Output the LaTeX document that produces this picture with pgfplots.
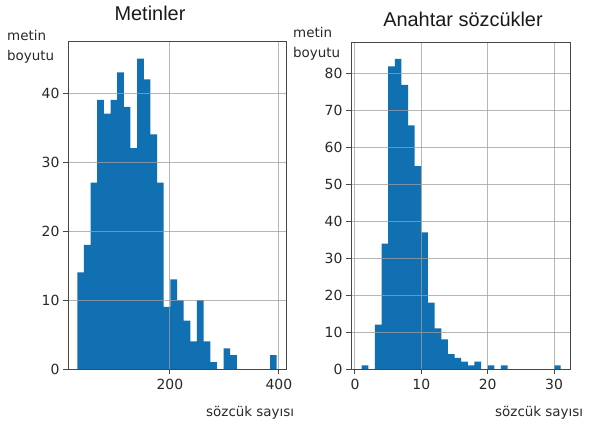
\documentclass[border=0pt]{standalone}
\usepackage{pgfplots}
\pgfplotsset{compat=1.18}
\usepackage{fontspec}
\setmainfont{DejaVu Sans}
\newfontfamily\titlefont{Liberation Sans}
\definecolor{barblue}{RGB}{16,112,178}
\definecolor{txt}{RGB}{40,40,40}
\pgfplotsset{
  myhist/.style={
    scale only axis,
    anchor=south west,
    axis on top,
    ymin=0,
    grid=major,
    grid style={color=black!38, line width=1bp, opacity=0.75},
    axis line style={color=black!72, line width=1bp},
    tick style={color=black!72, line width=1bp},
    major tick length=5bp,
    tick align=outside,
    tick pos=left,
    /pgf/number format/assume math mode=true,
    ticklabel style={font=\fontsize{14}{16}\selectfont, text=txt},
    xticklabel style={yshift=-2bp},
  }
}
\begin{document}
\begin{tikzpicture}[x=1bp,y=1bp]
\useasboundingbox (0,0) rectangle (595,430);
% Left histogram: Metinler
\begin{axis}[myhist, at={(68bp,61bp)}, width=218bp, height=327bp,
  xmin=13, xmax=413, ymax=47.4,
  xtick={200,400}, ytick={0,10,20,30,40}]
\addplot[ybar interval, fill=barblue, draw=none] coordinates {
(30,14) (42.2,18) (54.4,27) (66.6,39) (78.8,37) (91,39) (103.2,43) (115.4,38)
(127.6,32) (139.8,45) (152,42) (164.2,34) (176.4,27) (188.6,9) (200.8,13)
(213,10) (225.2,7) (237.4,4) (249.6,10) (261.8,4) (274,1) (286.2,0) (298.4,3)
(310.6,2) (322.8,0) (335,0) (347.2,0) (359.4,0) (371.6,0) (383.8,2) (396,2)
};
\end{axis}
% Right histogram: Anahtar sozcukler
\begin{axis}[myhist, at={(351bp,61bp)}, width=219bp, height=327bp,
  xmin=-0.6, xmax=32.4, ymax=88.6,
  xtick={0,10,20,30}, ytick={0,10,...,80}]
\addplot[ybar interval, fill=barblue, draw=none] coordinates {
(1,1) (2,0) (3,12) (4,34) (5,82) (6,84) (7,77) (8,66) (9,55) (10,37) (11,18)
(12,11) (13,8) (14,4) (15,3) (16,2) (17,1) (18,2) (19,0) (20,1) (21,0) (22,1)
(23,0) (24,0) (25,0) (26,0) (27,0) (28,0) (29,0) (30,1) (31,1)
};
\end{axis}
% Titles
\node[anchor=base, font=\titlefont\fontsize{20}{22}\selectfont, text=black!90] at (150,409.5) {Metinler};
\node[anchor=base, font=\titlefont\fontsize{20}{22}\selectfont, text=black!90] at (463,403.5) {Anahtar sözcükler};
% Y labels
\node[anchor=base west, inner sep=0, font=\fontsize{13.5}{15}\selectfont, text=txt] at (7,389) {metin};
\node[anchor=base west, inner sep=0, font=\fontsize{13.5}{15}\selectfont, text=txt] at (7,369.5) {boyutu};
\node[anchor=base west, inner sep=0, font=\fontsize{13.5}{15}\selectfont, text=txt] at (293,392) {metin};
\node[anchor=base west, inner sep=0, font=\fontsize{13.5}{15}\selectfont, text=txt] at (293,373) {boyutu};
% X labels
\node[anchor=base west, inner sep=0, font=\fontsize{13.5}{15}\selectfont, text=txt] at (206,14) {sözcük sayısı};
\node[anchor=base west, inner sep=0, font=\fontsize{13.5}{15}\selectfont, text=txt] at (495,14) {sözcük sayısı};
\end{tikzpicture}
\end{document}
